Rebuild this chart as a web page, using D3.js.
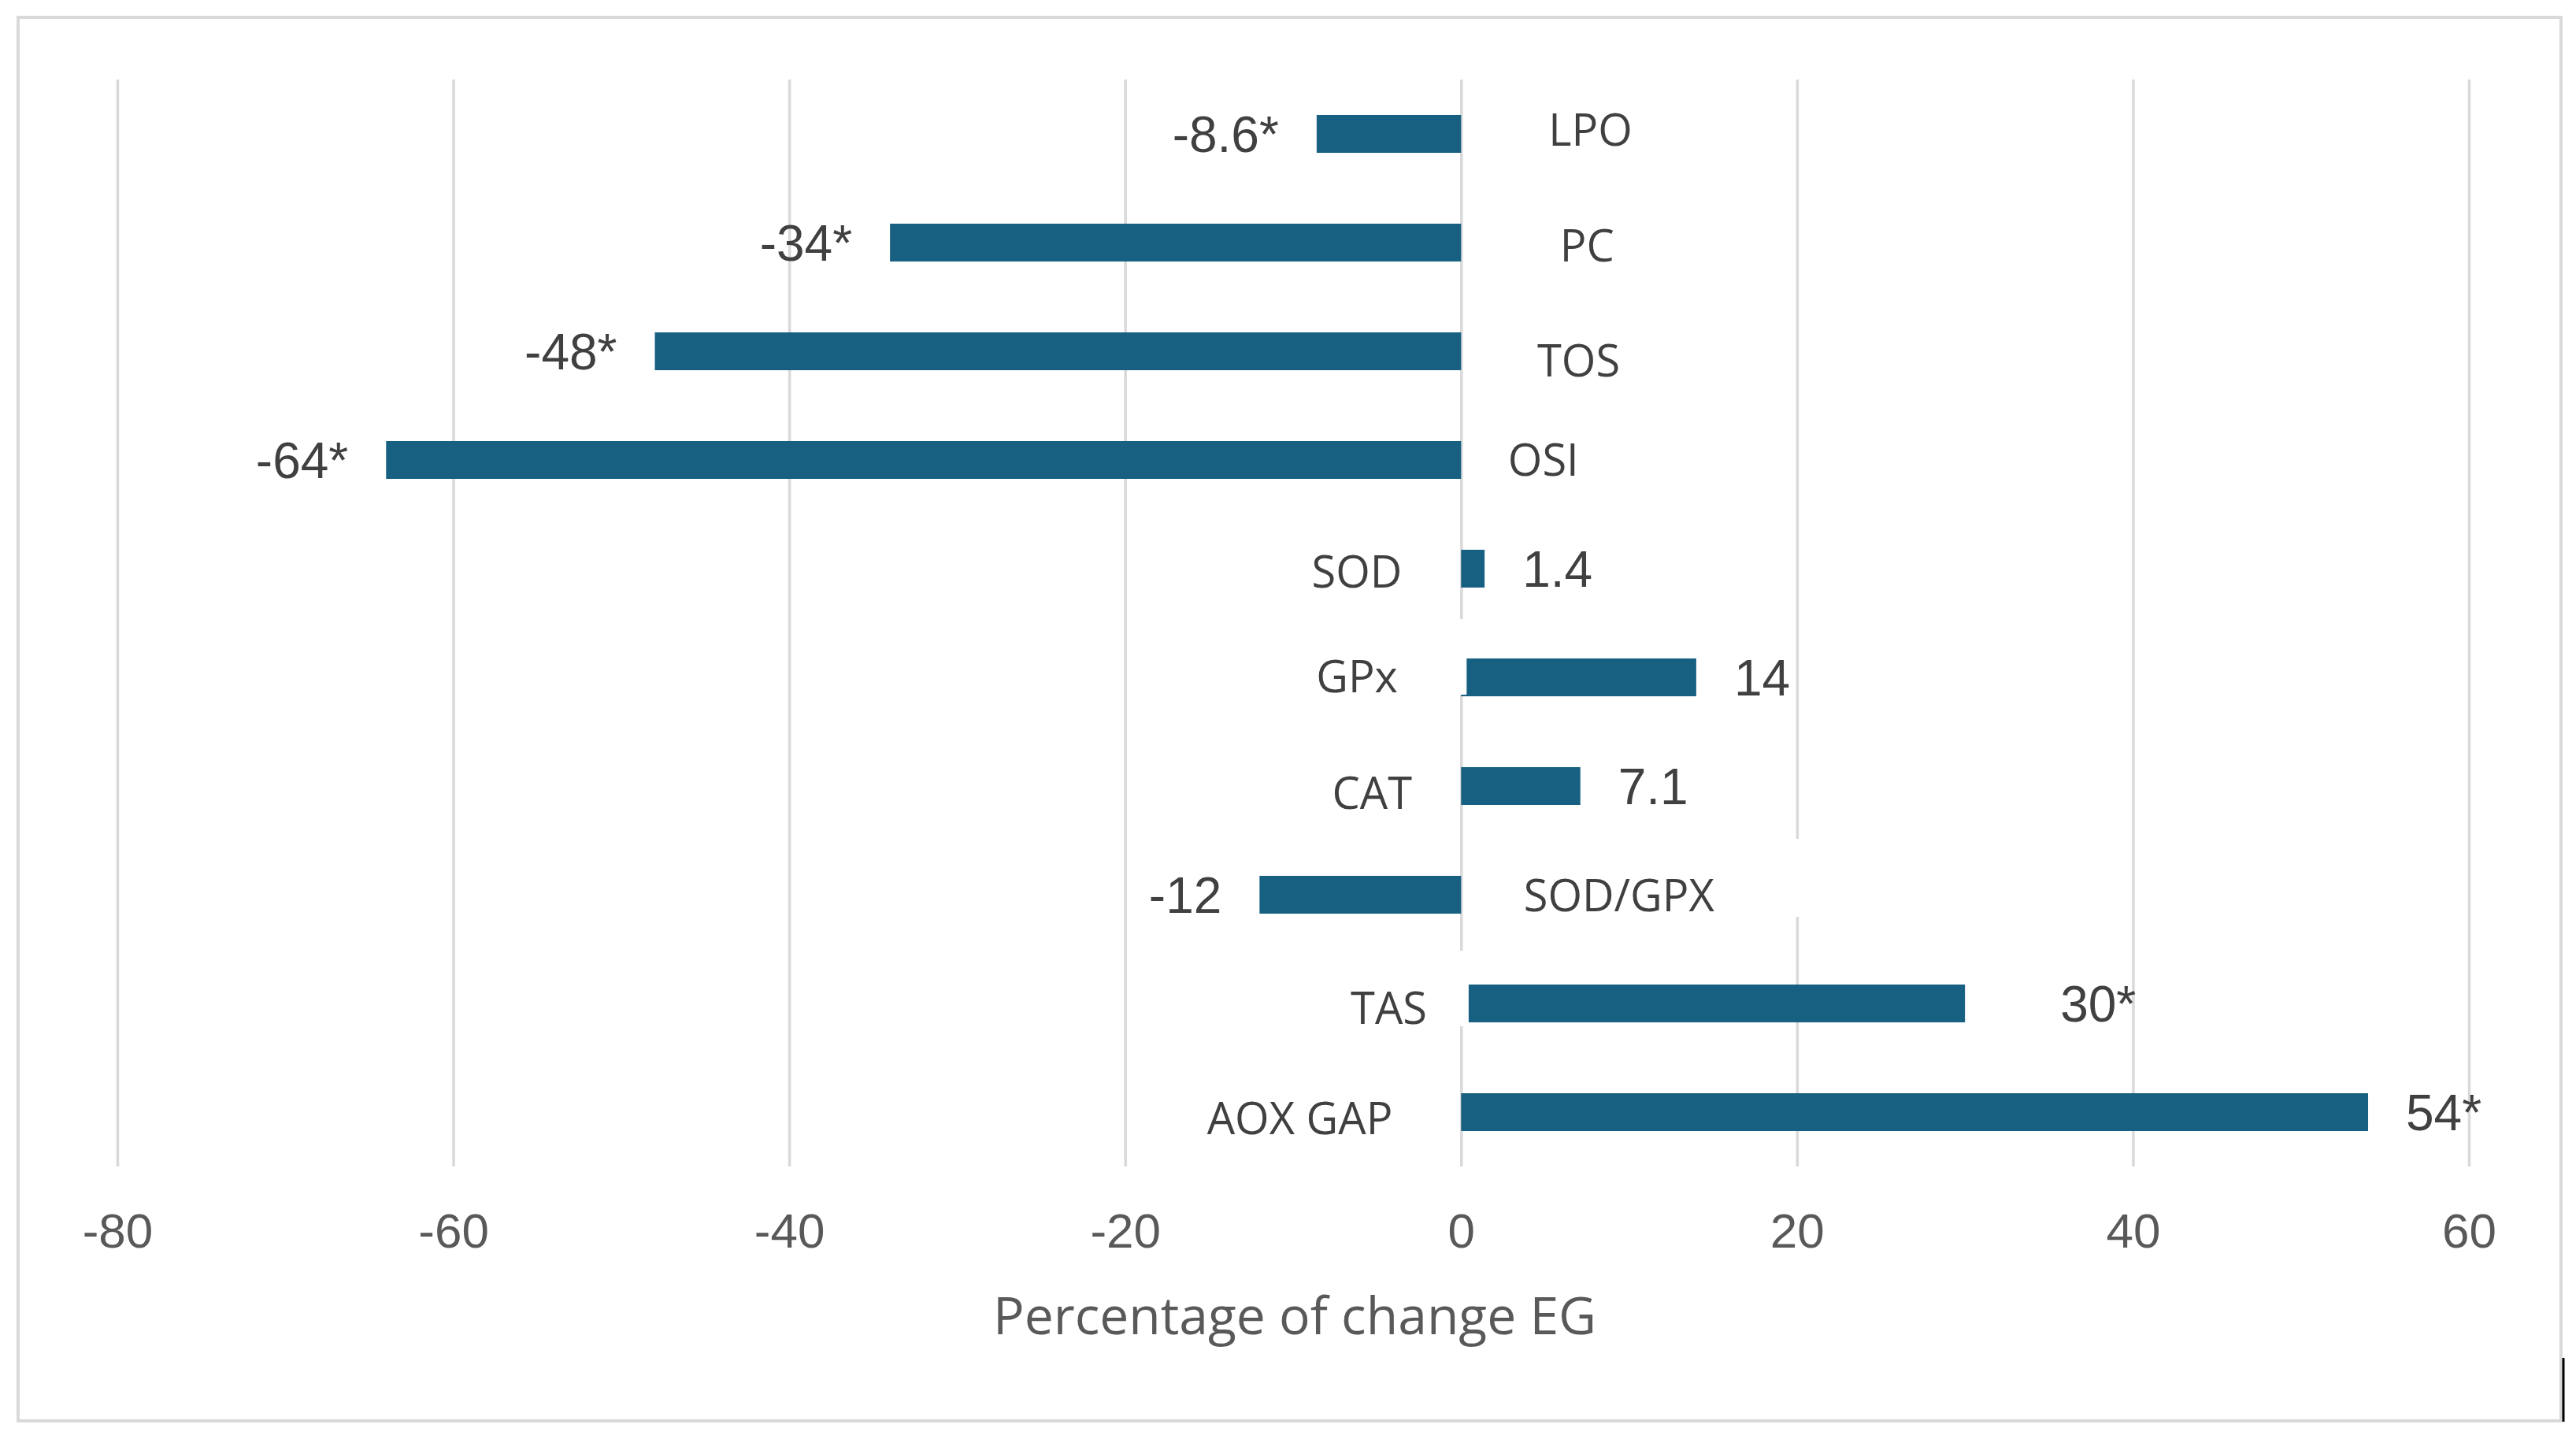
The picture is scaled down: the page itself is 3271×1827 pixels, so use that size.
<!DOCTYPE html>
<html>
<head>
<meta charset="utf-8">
<script src="https://d3js.org/d3.v7.min.js"></script>
<style>
  body { margin: 0; background: #fff; }
  .tick-label { font: 62px "Liberation Sans", Arial, sans-serif; fill: #595959; }
  .val-label  { font: 64px "Liberation Sans", Arial, sans-serif; fill: #404040; }
  .cat-label  { font: 56px "Open Sans", sans-serif; fill: #404040; }
  .axis-title { font: 66px "Open Sans", sans-serif; fill: #595959; }
</style>
</head>
<body>
<svg id="chart" width="3271" height="1827"></svg>
<script>
  // data, top to bottom
  var categories  = ["LPO", "PC", "TOS", "OSI", "SOD", "GPx", "CAT", "SOD/GPX", "TAS", "AOX GAP"]
  var values      = [-8.6, -34, -48, -64, 1.4, 14, 7.1, -12, 30, 54]
  var significant = [true, true, true, true, false, false, false, false, true, true]
  var xTicks      = [-80, -60, -40, -20, 0, 20, 40, 60]
  var xTitle      = "Percentage of change EG"

  // hand placed category labels (centre x in axis units, y nudge in px)
  var catLabelX  = [7.7, 7.5, 7.0, 4.9, -6.2, -6.2, -5.3, 9.4, -4.3, -9.6]
  var catLabelDy = [-5, 4, 12, 0, 4, -1, 9, 1, 6, 8]
  // white label boxes that hide parts of gridlines: [x0, x1, top, bottom]
  var catLabelBox = [null, null, null, null, null,
                     [-12, 0.33, -74, 22], null, [0.2, 21, -71, 28],
                     [-10, 0.45, -67, 29], null]
  var valLabelNudge = [0, 0, 0, 0, 0, 0, 0, 0, 73, 0]

  var svg = d3.select('#chart')
  var plotTop = 101, plotBottom = 1481

  var x = d3.scaleLinear().domain([-80, 60]).range([149, 3135])
  var y = d3.scaleBand().domain(categories).range([plotTop, plotBottom])
    .paddingInner(0.652).paddingOuter(0.326)

  // outer frame
  svg.append('rect')
    .attr('x', 23).attr('y', 22)
    .attr('width', 3252 - 23).attr('height', 1804 - 22)
    .attr('fill', '#fff')
    .attr('stroke', '#d9d9d9').attr('stroke-width', 4)

  // gridlines + tick labels
  var xAxis = d3.axisBottom(x).tickValues(xTicks)
    .tickSize(-(plotBottom - plotTop)).tickPadding(59)
    .tickFormat(d3.format('d'))
  var gx = svg.append('g')
    .attr('transform', 'translate(0,' + plotBottom + ')')
    .call(xAxis)
  gx.select('.domain').remove()
  gx.selectAll('.tick line').attr('stroke', '#d9d9d9').attr('stroke-width', 3.5)
  gx.selectAll('.tick text').attr('class', 'tick-label')
    .text(function(d) { return d < 0 ? '-' + Math.abs(d) : '' + d })

  // bars
  var rows = categories.map(function(c, i) {
    return { cat: c, v: values[i], sig: significant[i], i: i }
  })
  svg.append('g').selectAll('rect')
    .data(rows)
    .enter().append('rect')
    .attr('x', function(d) { return x(Math.min(0, d.v)) })
    .attr('width', function(d) { return Math.abs(x(d.v) - x(0)) })
    .attr('y', function(d) { return y(d.cat) })
    .attr('height', y.bandwidth())
    .attr('fill', '#186082')

  // label boxes (drawn over gridlines and bar ends, like the original)
  svg.append('g').selectAll('rect')
    .data(rows.filter(function(d) { return catLabelBox[d.i] }))
    .enter().append('rect')
    .attr('x', function(d) { return x(catLabelBox[d.i][0]) })
    .attr('width', function(d) { return x(catLabelBox[d.i][1]) - x(catLabelBox[d.i][0]) })
    .attr('y', function(d) { return y(d.cat) + y.bandwidth() / 2 + catLabelBox[d.i][2] })
    .attr('height', function(d) { return catLabelBox[d.i][3] - catLabelBox[d.i][2] })
    .attr('fill', '#fff')

  // category labels
  svg.append('g').selectAll('text')
    .data(rows)
    .enter().append('text')
    .attr('class', 'cat-label')
    .attr('text-anchor', 'middle')
    .attr('x', function(d) { return x(catLabelX[d.i]) })
    .attr('y', function(d) { return y(d.cat) + y.bandwidth() / 2 + catLabelDy[d.i] + 20 })
    .text(function(d) { return d.cat })

  // value labels
  svg.append('g').selectAll('text')
    .data(rows)
    .enter().append('text')
    .attr('class', 'val-label')
    .attr('text-anchor', function(d) { return d.v < 0 ? 'end' : 'start' })
    .attr('x', function(d) {
      return x(d.v) + (d.v < 0 ? -48 : 48) + valLabelNudge[d.i]
    })
    .attr('y', function(d) { return y(d.cat) + y.bandwidth() / 2 + 23 })
    .text(function(d) { return (d.v < 0 ? '-' + Math.abs(d.v) : '' + d.v) + (d.sig ? '*' : '') })

  // axis title
  svg.append('text')
    .attr('class', 'axis-title')
    .attr('text-anchor', 'middle')
    .attr('x', 1644).attr('y', 1694)
    .text(xTitle)

  // small dark mark at the lower right edge of the frame
  svg.append('line')
    .attr('x1', 3255).attr('x2', 3255)
    .attr('y1', 1724).attr('y2', 1805)
    .attr('stroke', '#000').attr('stroke-width', 3)
</script>
</body>
</html>
